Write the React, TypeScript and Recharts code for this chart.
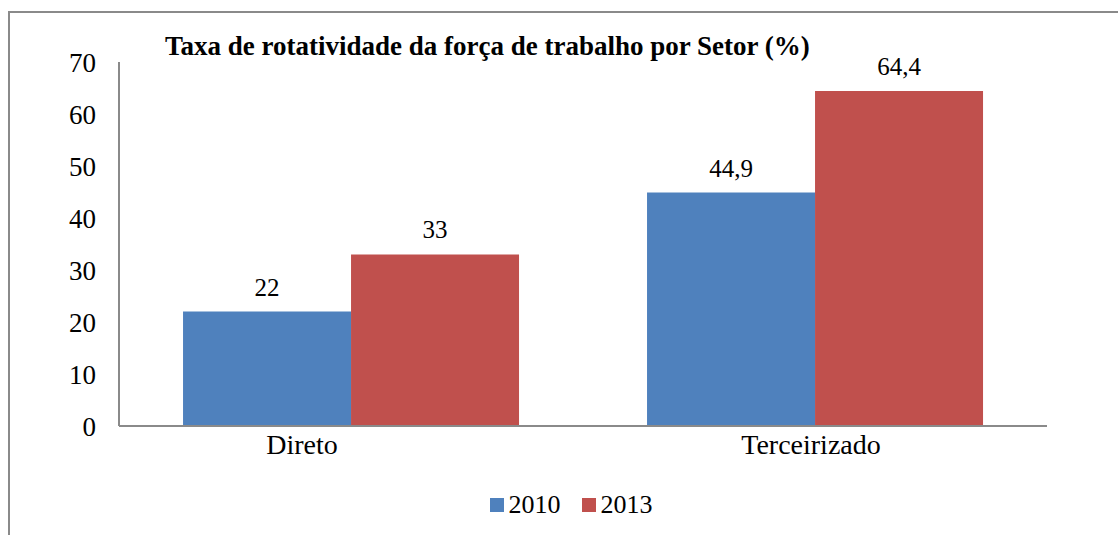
import { BarChart, Bar, XAxis, YAxis, Legend, LabelList } from 'recharts';

// values
const sectors = ['Direto', 'Terceirizado'];
const rate2010 = [22, 44.9];
const rate2013 = [33, 64.4];
const yTicks = [0, 10, 20, 30, 40, 50, 60, 70];

// category labels in the original sit a bit left of the group centre
const tickShift = [-49, -4];

const data = sectors.map((s, i) => ({ sector: s, y2010: rate2010[i], y2013: rate2013[i] }));

const font = '"Liberation Serif", "Times New Roman", serif';
const BLUE = '#4F81BD';
const RED = '#C0504D';

const fmt = (v: number) => String(v).replace('.', ',');

const SectorTick = (props: any) => {
  const { x, y, payload, index } = props;
  return (
    <text
      x={x + (tickShift[index] ?? 0)}
      y={y}
      dy="0.71em"
      textAnchor="middle"
      fontFamily={font}
      fontSize={28}
      fill="#000"
    >
      {payload.value}
    </text>
  );
};

const LegendBox = () => (
  <div style={{ display: 'flex', justifyContent: 'center', alignItems: 'center', fontFamily: font, fontSize: 26, color: '#000', paddingLeft: 24 }}>
    {[
      { name: '2010', color: BLUE },
      { name: '2013', color: RED },
    ].map((it, i) => (
      <span key={it.name} style={{ display: 'flex', alignItems: 'center', marginLeft: i ? 21 : 0 }}>
        <span style={{ width: 14, height: 14, background: it.color, marginRight: 5, display: 'inline-block' }} />
        <span>{it.name}</span>
      </span>
    ))}
  </div>
);

export default function App() {
  return (
    <div style={{ position: 'relative', width: 1118, height: 535, overflow: 'hidden', background: '#fff' }}>
      <style>{'body{margin:0;overflow:hidden}'}</style>
      {/* frame of the pasted chart, only top and left edges visible */}
      <div
        style={{
          position: 'absolute',
          left: 8,
          top: 11,
          width: 1300,
          height: 700,
          borderTop: '2px solid #8a8a8a',
          borderLeft: '2px solid #8a8a8a',
        }}
      />
      <div
        style={{
          position: 'absolute',
          left: 165,
          top: 33,
          fontFamily: font,
          fontWeight: 'bold',
          fontSize: 27,
          lineHeight: 1,
          whiteSpace: 'nowrap',
          color: '#000',
        }}
      >
        Taxa de rotatividade da força de trabalho por Setor (%)
      </div>
      <div style={{ position: 'absolute', left: 0, top: 0 }}>
        <BarChart
          width={1118}
          height={535}
          data={data}
          margin={{ top: 62, right: 71, bottom: 69, left: 0 }}
          barCategoryGap="13.8%"
          barGap={0}
        >
          <XAxis
            dataKey="sector"
            height={40}
            tickLine={false}
            tickSize={0}
            tickMargin={8}
            axisLine={{ stroke: '#8a8a8a', strokeWidth: 2 }}
            tick={<SectorTick />}
            interval={0}
          />
          <YAxis
            width={119}
            domain={[0, 70]}
            ticks={yTicks}
            interval={0}
            tickLine={false}
            tickSize={0}
            tickMargin={23}
            axisLine={{ stroke: '#8a8a8a', strokeWidth: 2 }}
            tick={{ fontFamily: font, fontSize: 27, fill: '#000' }}
          />
          <Legend verticalAlign="middle" align="center" wrapperStyle={{ top: 490, left: 0, width: 1118 }} content={<LegendBox />} />
          <Bar dataKey="y2010" name="2010" fill={BLUE} isAnimationActive={false}>
            <LabelList dataKey="y2010" position="top" offset={16} formatter={(v: any) => fmt(v)} style={{ fontFamily: font, fontSize: 25, fill: '#000' }} />
          </Bar>
          <Bar dataKey="y2013" name="2013" fill={RED} isAnimationActive={false}>
            <LabelList dataKey="y2013" position="top" offset={16} formatter={(v: any) => fmt(v)} style={{ fontFamily: font, fontSize: 25, fill: '#000' }} />
          </Bar>
        </BarChart>
      </div>
    </div>
  );
}
